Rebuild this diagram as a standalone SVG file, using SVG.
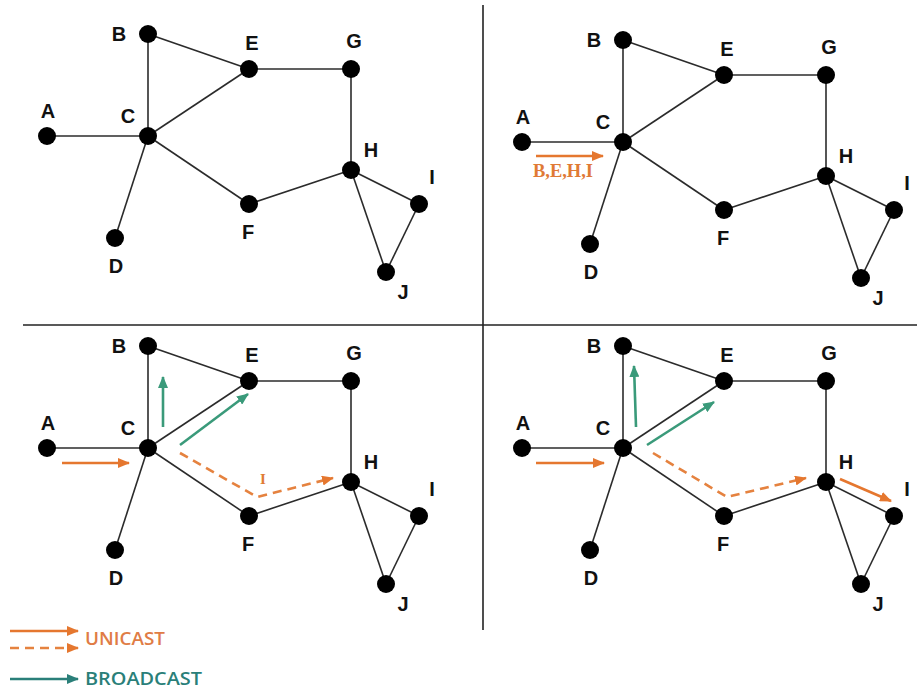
<svg xmlns="http://www.w3.org/2000/svg" width="917" height="691" viewBox="0 0 917 691">
<style>
.edge{stroke:#2b2b2b;stroke-width:1.6;fill:none}
.node circle{fill:#000}
.lbl{font-family:"Liberation Sans",Arial,sans-serif;font-weight:bold;font-size:20px;fill:#111;text-anchor:middle}
.div{stroke:#222;stroke-width:1.6}
.uni{stroke:#E5772F;stroke-width:2.6;fill:none}
.unid{stroke:#E5823F;stroke-width:2.6;fill:none;stroke-dasharray:9 6}
.bc{stroke:#3A9A7A;stroke-width:2.6;fill:none}
.bcl{stroke:#2A7F79;stroke-width:2.6;fill:none}
.ann{font-family:"Liberation Serif","Times New Roman",serif;fill:#E07A35}
.leg{font-family:"Open Sans","Liberation Sans",sans-serif;font-size:18px;font-weight:600}
</style>
<defs>
<marker id="ao" markerUnits="userSpaceOnUse" markerWidth="12" markerHeight="10" viewBox="0 0 12 10" refX="11" refY="5" orient="auto"><path d="M0,0 L12,5 L0,10 Z" fill="#E5772F"/></marker>
<marker id="ag" markerUnits="userSpaceOnUse" markerWidth="12" markerHeight="10" viewBox="0 0 12 10" refX="11" refY="5" orient="auto"><path d="M0,0 L12,5 L0,10 Z" fill="#3A9A7A"/></marker>
<marker id="at" markerUnits="userSpaceOnUse" markerWidth="12" markerHeight="10" viewBox="0 0 12 10" refX="11" refY="5" orient="auto"><path d="M0,0 L12,5 L0,10 Z" fill="#2A7F79"/></marker>
<g id="edges-base">
<line x1="47" y1="136" x2="148" y2="136"/>
<line x1="148" y1="34" x2="148" y2="136"/>
<line x1="148" y1="34" x2="249" y2="69"/>
<line x1="148" y1="136" x2="249" y2="69"/>
<line x1="148" y1="136" x2="249" y2="204"/>
<line x1="148" y1="136" x2="115" y2="238"/>
<line x1="249" y1="69" x2="351" y2="69"/>
<line x1="351" y1="69" x2="351" y2="170"/>
<line x1="249" y1="204" x2="351" y2="170"/>
<line x1="351" y1="170" x2="419" y2="204"/>
<line x1="351" y1="170" x2="386" y2="272"/>
<line x1="419" y1="204" x2="386" y2="272"/>
</g>
</defs>
<rect width="917" height="691" fill="#fff"/>

<!-- dividers -->
<line class="div" x1="483" y1="5" x2="483" y2="630"/>
<line class="div" x1="23" y1="325" x2="917" y2="325"/>

<!-- connectors -->
<g id="connectors">
<use href="#edges-base" class="edge"/>
<use href="#edges-base" class="edge" transform="translate(475,6)"/>
<use href="#edges-base" class="edge" transform="translate(0,312)"/>
<use href="#edges-base" class="edge" transform="translate(475,312)"/>
</g>

<!-- Quadrant 1 -->
<g id="q1">
<g id="q1-A" class="node"><circle cx="47" cy="136" r="9"/><text class="lbl" x="48" y="118">A</text></g>
<g id="q1-B" class="node"><circle cx="148" cy="34" r="9"/><text class="lbl" x="119" y="41">B</text></g>
<g id="q1-C" class="node"><circle cx="148" cy="136" r="9"/><text class="lbl" x="128" y="123">C</text></g>
<g id="q1-D" class="node"><circle cx="115" cy="238" r="9"/><text class="lbl" x="116" y="273">D</text></g>
<g id="q1-E" class="node"><circle cx="249" cy="69" r="9"/><text class="lbl" x="252" y="50">E</text></g>
<g id="q1-F" class="node"><circle cx="249" cy="204" r="9"/><text class="lbl" x="248" y="239">F</text></g>
<g id="q1-G" class="node"><circle cx="351" cy="69" r="9"/><text class="lbl" x="354" y="48">G</text></g>
<g id="q1-H" class="node"><circle cx="351" cy="170" r="9"/><text class="lbl" x="371" y="157">H</text></g>
<g id="q1-I" class="node"><circle cx="419" cy="204" r="9"/><text class="lbl" x="432" y="184">I</text></g>
<g id="q1-J" class="node"><circle cx="386" cy="272" r="9"/><text class="lbl" x="403" y="299">J</text></g>
</g>

<!-- Quadrant 2 -->
<g id="q2" transform="translate(475,6)">
<g id="q2-A" class="node"><circle cx="47" cy="136" r="9"/><text class="lbl" x="48" y="118">A</text></g>
<g id="q2-B" class="node"><circle cx="148" cy="34" r="9"/><text class="lbl" x="119" y="41">B</text></g>
<g id="q2-C" class="node"><circle cx="148" cy="136" r="9"/><text class="lbl" x="128" y="123">C</text></g>
<g id="q2-D" class="node"><circle cx="115" cy="238" r="9"/><text class="lbl" x="116" y="273">D</text></g>
<g id="q2-E" class="node"><circle cx="249" cy="69" r="9"/><text class="lbl" x="252" y="50">E</text></g>
<g id="q2-F" class="node"><circle cx="249" cy="204" r="9"/><text class="lbl" x="248" y="239">F</text></g>
<g id="q2-G" class="node"><circle cx="351" cy="69" r="9"/><text class="lbl" x="354" y="48">G</text></g>
<g id="q2-H" class="node"><circle cx="351" cy="170" r="9"/><text class="lbl" x="371" y="157">H</text></g>
<g id="q2-I" class="node"><circle cx="419" cy="204" r="9"/><text class="lbl" x="432" y="184">I</text></g>
<g id="q2-J" class="node"><circle cx="386" cy="272" r="9"/><text class="lbl" x="403" y="299">J</text></g>
</g>

<!-- Quadrant 3 -->
<g id="q3" transform="translate(0,312)">
<g id="q3-A" class="node"><circle cx="47" cy="136" r="9"/><text class="lbl" x="48" y="118">A</text></g>
<g id="q3-B" class="node"><circle cx="148" cy="34" r="9"/><text class="lbl" x="119" y="41">B</text></g>
<g id="q3-C" class="node"><circle cx="148" cy="136" r="9"/><text class="lbl" x="128" y="123">C</text></g>
<g id="q3-D" class="node"><circle cx="115" cy="238" r="9"/><text class="lbl" x="116" y="273">D</text></g>
<g id="q3-E" class="node"><circle cx="249" cy="69" r="9"/><text class="lbl" x="252" y="50">E</text></g>
<g id="q3-F" class="node"><circle cx="249" cy="204" r="9"/><text class="lbl" x="248" y="239">F</text></g>
<g id="q3-G" class="node"><circle cx="351" cy="69" r="9"/><text class="lbl" x="354" y="48">G</text></g>
<g id="q3-H" class="node"><circle cx="351" cy="170" r="9"/><text class="lbl" x="371" y="157">H</text></g>
<g id="q3-I" class="node"><circle cx="419" cy="204" r="9"/><text class="lbl" x="432" y="184">I</text></g>
<g id="q3-J" class="node"><circle cx="386" cy="272" r="9"/><text class="lbl" x="403" y="299">J</text></g>
</g>

<!-- Quadrant 4 -->
<g id="q4" transform="translate(475,312)">
<g id="q4-A" class="node"><circle cx="47" cy="136" r="9"/><text class="lbl" x="48" y="118">A</text></g>
<g id="q4-B" class="node"><circle cx="148" cy="34" r="9"/><text class="lbl" x="119" y="41">B</text></g>
<g id="q4-C" class="node"><circle cx="148" cy="136" r="9"/><text class="lbl" x="128" y="123">C</text></g>
<g id="q4-D" class="node"><circle cx="115" cy="238" r="9"/><text class="lbl" x="116" y="273">D</text></g>
<g id="q4-E" class="node"><circle cx="249" cy="69" r="9"/><text class="lbl" x="252" y="50">E</text></g>
<g id="q4-F" class="node"><circle cx="249" cy="204" r="9"/><text class="lbl" x="248" y="239">F</text></g>
<g id="q4-G" class="node"><circle cx="351" cy="69" r="9"/><text class="lbl" x="354" y="48">G</text></g>
<g id="q4-H" class="node"><circle cx="351" cy="170" r="9"/><text class="lbl" x="371" y="157">H</text></g>
<g id="q4-I" class="node"><circle cx="419" cy="204" r="9"/><text class="lbl" x="432" y="184">I</text></g>
<g id="q4-J" class="node"><circle cx="386" cy="272" r="9"/><text class="lbl" x="403" y="299">J</text></g>
</g>

<!-- message arrows -->
<g id="arrows">
<line class="uni" x1="536" y1="156" x2="603" y2="156" marker-end="url(#ao)"/>
<text class="ann" x="533" y="177" font-size="18" font-weight="bold" textLength="60" lengthAdjust="spacingAndGlyphs">B,E,H,I</text>

<line class="uni" x1="62" y1="463" x2="129" y2="463" marker-end="url(#ao)"/>
<line class="bc" x1="163" y1="427" x2="163" y2="377" marker-end="url(#ag)"/>
<line class="bc" x1="180" y1="445" x2="248" y2="394" marker-end="url(#ag)"/>
<polyline class="unid" points="180,453 257,497 333,478" marker-end="url(#ao)"/>
<text class="ann" x="263" y="484" font-size="15" font-weight="bold" text-anchor="middle">I</text>

<line class="uni" x1="536" y1="463" x2="604" y2="463" marker-end="url(#ao)"/>
<line class="bc" x1="636" y1="427" x2="634" y2="366" marker-end="url(#ag)"/>
<line class="bc" x1="647" y1="445" x2="714" y2="402" marker-end="url(#ag)"/>
<polyline class="unid" points="653,453 727,497 806,478" marker-end="url(#ao)"/>
<line class="uni" x1="840" y1="479" x2="891" y2="501" marker-end="url(#ao)"/>
</g>

<!-- legend -->
<g id="legend">
<line class="uni" x1="10" y1="631" x2="78" y2="631" marker-end="url(#ao)"/>
<line class="unid" x1="10" y1="648" x2="78" y2="648" marker-end="url(#ao)"/>
<line class="bcl" x1="10" y1="679" x2="78" y2="679" marker-end="url(#at)"/>
<text class="leg" x="85" y="645" fill="#E07C45" textLength="80" lengthAdjust="spacingAndGlyphs">UNICAST</text>
<text class="leg" x="85" y="685" fill="#2A7F79" textLength="117" lengthAdjust="spacingAndGlyphs">BROADCAST</text>
</g>
</svg>
